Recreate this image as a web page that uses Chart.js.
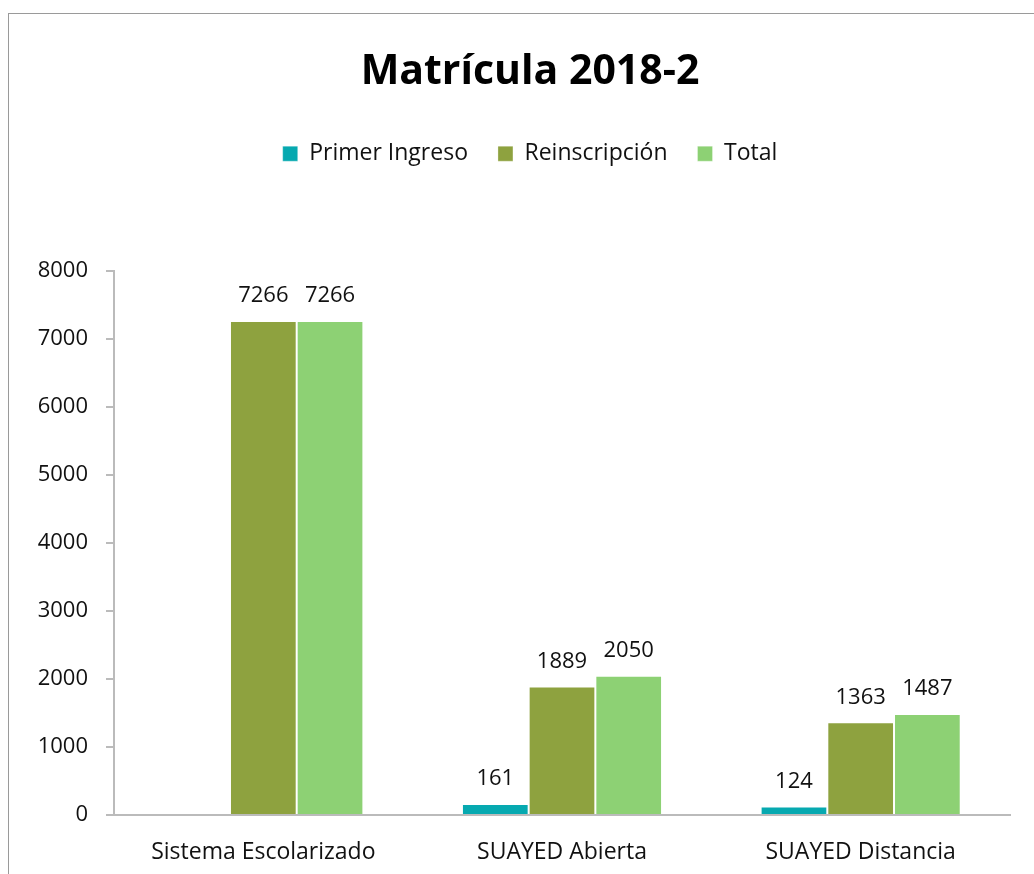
<!DOCTYPE html>
<html>
<head>
<meta charset="utf-8">
<script src="https://cdn.jsdelivr.net/npm/chart.js@4.4.1/dist/chart.umd.min.js"></script>
<style>
  body { margin: 0; background: #fff; }
  #marco { position: absolute; left: 8px; top: 13px; width: 1100px; height: 1000px; border: 1px solid #9a9a9a; }
  #graph { position: absolute; left: 0; top: 0; }
</style>
</head>
<body>
<div id="marco"></div>
<canvas id="graph" width="1034" height="874"></canvas>
<script>
const categorias = ['Sistema Escolarizado', 'SUAYED Abierta', 'SUAYED Distancia'];
const primerIngreso = [0, 161, 124];
const reinscripcion = [7266, 1889, 1363];
const total = [7266, 2050, 1487];
const fuente = "'Open Sans', 'Noto Sans', sans-serif";

// etiquetas encima de cada barra
const etiquetas = {
    id: 'etiquetas',
    afterDatasetsDraw(chart) {
        const ctx = chart.ctx;
        ctx.save();
        ctx.font = '22px ' + fuente;
        ctx.fillStyle = '#111';
        ctx.textAlign = 'center';
        ctx.textBaseline = 'middle';
        chart.data.datasets.forEach((ds, i) => {
            chart.getDatasetMeta(i).data.forEach((bar, j) => {
                if (!ds.data[j]) return;
                ctx.fillText(ds.data[j], bar.x, bar.y - 25);
            });
        });
        ctx.restore();
    }
};

const ctx = document.getElementById('graph');
const config = {
    type: 'bar',
    data: {
        labels: categorias,
        datasets: [
            { label: 'Primer Ingreso', data: primerIngreso, backgroundColor: '#06A9B0' },
            { label: 'Reinscripción', data: reinscripcion, backgroundColor: '#8EA23F' },
            { label: 'Total', data: total, backgroundColor: '#8DD174' }
        ]
    },
    options: {
        responsive: false,
        animation: false,
        datasets: {
            bar: {
                categoryPercentage: 0.67,
                barPercentage: 1,
                borderColor: 'rgba(255,255,255,0.3)',
                borderWidth: 1
            }
        },
        layout: { padding: { left: 26, right: 0, top: 0, bottom: 0 } },
        plugins: {
            title: {
                display: true,
                text: 'Matrícula 2018-2',
                color: '#000',
                font: { family: fuente, size: 41, weight: 'bold', lineHeight: 1.2 },
                padding: { top: 48, bottom: 15 }
            },
            subtitle: {
                display: true,
                text: '',
                weight: 500,
                font: { size: 10, lineHeight: 1 },
                padding: { top: 43, bottom: 43 }
            },
            legend: {
                labels: {
                    color: '#111',
                    font: { family: fuente, size: 23 },
                    boxWidth: 15,
                    boxHeight: 15,
                    padding: 30
                }
            },
            tooltip: { enabled: false }
        },
        scales: {
            x: {
                grid: { display: false, drawTicks: false },
                border: { color: '#bbb', width: 2 },
                ticks: { color: '#111', font: { family: fuente, size: 23 }, padding: 24 },
                afterFit: (s) => { s.height = 59; }
            },
            y: {
                min: 0,
                max: 8000,
                grid: { drawOnChartArea: false, drawTicks: true, tickLength: 8, color: '#bbb', lineWidth: 2 },
                border: { color: '#bbb', width: 2 },
                ticks: {
                    stepSize: 1000,
                    color: '#111',
                    font: { family: fuente, size: 22 },
                    padding: 18,
                    callback: (v) => String(v)
                },
                afterFit: (s) => { s.width = 88; }
            },
            // eje vacio a la derecha, solo para dejar margen
            margen: {
                type: 'linear',
                position: 'right',
                grid: { display: false, drawTicks: false },
                border: { display: false },
                ticks: { display: false },
                afterFit: (s) => { s.width = 24; }
            }
        }
    },
    plugins: [etiquetas]
};

const myChart = new Chart(ctx, config);
</script>
</body>
</html>
